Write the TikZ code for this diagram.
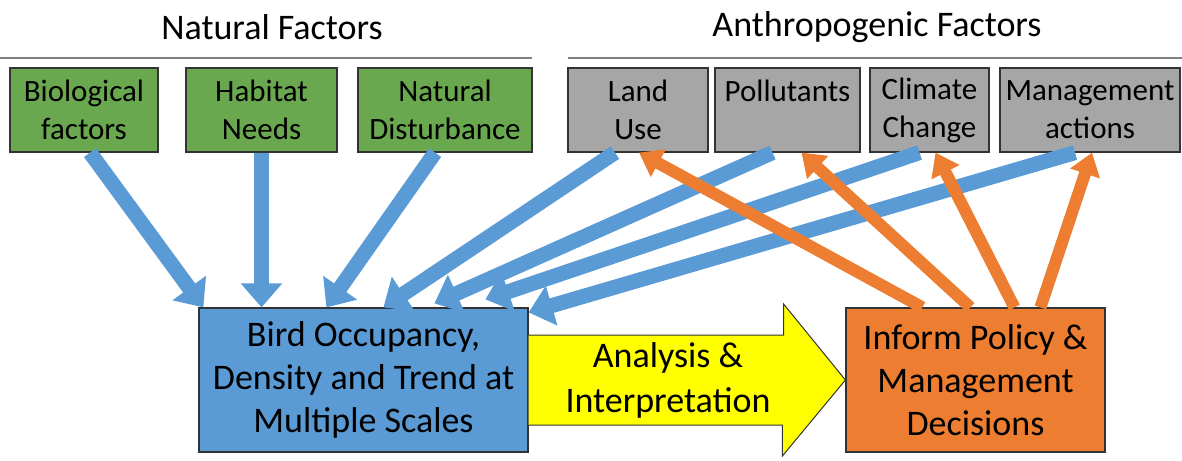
\documentclass[tikz,border=0pt]{standalone}
\usepackage{fontspec}
\setmainfont{Carlito}
\usetikzlibrary{arrows.meta}
\definecolor{natgreen}{HTML}{6AA84F}
\definecolor{anthgray}{HTML}{A6A6A6}
\definecolor{birdblue}{HTML}{5B9BD5}
\definecolor{polorange}{HTML}{ED7D31}
\definecolor{anayellow}{HTML}{FFFF00}
\definecolor{rulegray}{HTML}{7F7F7F}
\begin{document}
\begin{tikzpicture}[x=1pt, y=-1pt,
  factor/.style={draw=black!80, line width=1.2pt, align=center, inner sep=0pt, minimum height=84pt, font=\fontsize{31}{38}\selectfont},
  natbox/.style={factor, fill=natgreen},
  anthbox/.style={factor, fill=anthgray},
  bigbox/.style={draw=black!80, line width=1.2pt, align=center, inner sep=0pt, minimum height=144pt, font=\fontsize{36}{43}\selectfont},
  heading/.style={font=\fontsize{36}{42}\selectfont},
  inarrow/.style={draw=birdblue, line width=15pt, -{Triangle[width=40pt,length=24pt]}},
  outarrow/.style={draw=polorange, line width=12pt, -{Triangle[width=30pt,length=22pt]}}]

  \useasboundingbox (0,0) rectangle (1182,460);

  % Headings
  \node[heading] (natural) at (272,27) {Natural Factors};
  \node[heading] (anthro) at (877,27) {Anthropogenic Factors};
  \draw[rulegray, line width=2.5pt] (0,58) -- (532,58);
  \draw[rulegray, line width=2.5pt] (568,58) -- (1182,58);

  % Natural factors
  \node[natbox, minimum width=148pt] (bio) at (84,110) {Biological\\factors};
  \node[natbox, minimum width=151pt] (hab) at (261.5,110) {Habitat\\Needs};
  \node[natbox, minimum width=174pt] (dist) at (445,110) {Natural\\Disturbance};

  % Anthropogenic factors
  \node[anthbox, minimum width=140pt] (land) at (638,110) {Land\\Use};
  \node[anthbox, minimum width=145pt] (poll) at (787.5,110) {Pollutants\\\phantom{X}};
  \node[anthbox, minimum width=119pt] (clim) at (929.5,110) {Climate\\Change};
  \node[anthbox, minimum width=180pt] (mgmt) at (1090,110) {Management\\actions};

  % Bottom row
  \node[bigbox, fill=birdblue, minimum width=329pt] (bird) at (363.5,380) {Bird Occupancy,\\Density and Trend at\\Multiple Scales};
  \node[bigbox, fill=polorange, minimum width=259pt] (policy) at (975.5,380) {Inform Policy \&\\Management\\Decisions};

  % Analysis arrow
  \filldraw[fill=anayellow, draw=black!80, line width=1pt] ([yshift=45pt]bird.east) -- ++(255,0) -- ++(0,-31)
    -- (policy.west) -- ++(-63,76) -- ++(0,-31) -- ([yshift=-45pt]bird.east);
  \node[align=center, font=\fontsize{36}{45}\selectfont] (ana) at (668,380) {Analysis \&\\Interpretation};

  % Factors to birds
  \draw[inarrow] ([xshift=6pt]bio.south) -- ([xshift=5pt]bird.north west);
  \draw[inarrow] (hab.south) -- (hab.south |- bird.north);
  \draw[inarrow] ([xshift=-10pt]dist.south) -- ([xshift=128pt]bird.north west);
  \draw[inarrow] ([xshift=-23pt]land.south) -- ([xshift=185pt]bird.north west);
  \draw[inarrow] ([xshift=-15pt]poll.south) -- ([xshift=236pt,yshift=4pt]bird.north west);
  \draw[inarrow] ([xshift=-10pt]clim.south) -- ([xshift=287pt,yshift=8pt]bird.north west);
  \draw[inarrow] ([xshift=-15pt]mgmt.south) -- ([yshift=-5pt]bird.north east);

  % Decisions back to factors
  \draw[outarrow] ([xshift=77pt]policy.north west) -- ([xshift=1pt]land.south);
  \draw[outarrow] ([xshift=125pt]policy.north west) -- ([xshift=14pt]poll.south);
  \draw[outarrow] ([xshift=169pt]policy.north west) -- ([xshift=6pt]clim.south);
  \draw[outarrow] ([xshift=195pt]policy.north west) -- ([xshift=2pt]mgmt.south);

\end{tikzpicture}
\end{document}
